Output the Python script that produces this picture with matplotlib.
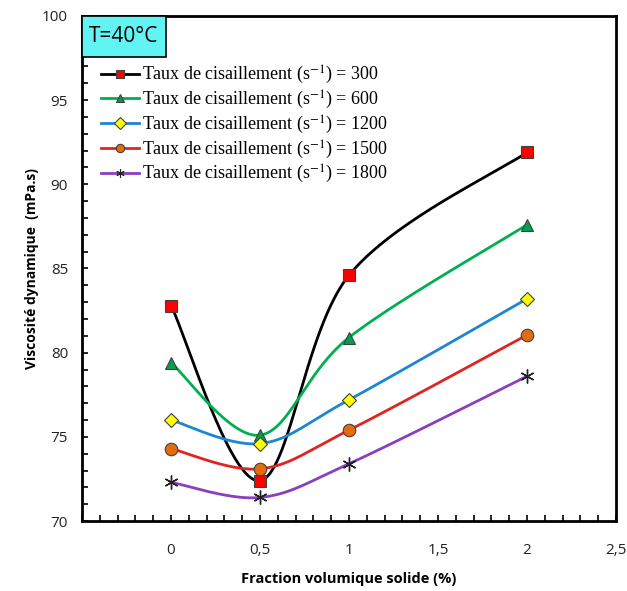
import numpy as np
import matplotlib
matplotlib.use("Agg")
import matplotlib.pyplot as plt
from matplotlib.ticker import MultipleLocator, FuncFormatter
from matplotlib.lines import Line2D
from matplotlib.patches import Rectangle

# ---- data ----
x_frac = [0, 0.5, 1, 2]
rates = [300, 600, 1200, 1500, 1800]
v300 = [82.8, 72.4, 84.6, 91.9]
v600 = [79.4, 75.1, 80.9, 87.6]
v1200 = [76.0, 74.6, 77.2, 83.2]
v1500 = [74.3, 73.1, 75.4, 81.05]
v1800 = [72.3, 71.4, 73.4, 78.6]
series = [v300, v600, v1200, v1500, v1800]

colors = ['black', '#00B050', '#1C86D1', '#E02424', '#8A3FBF']
mfc = ['#FF0000', '#00A050', '#FFFF00', '#E46C0A', 'black']
markers = ['s', '^', 'D', 'o', (6, 2, 0)]
msizes = [8, 8, 7, 9, 10]

plt.rcParams['mathtext.fontset'] = 'stix'

fig = plt.figure(figsize=(6.27, 5.91), dpi=100)
ax = fig.add_axes([0.1308, 0.1184, 0.8517, 0.8546])
ax.set_xlim(-0.5, 2.5)
ax.set_ylim(70, 100)

# Excel-like smoothing (Catmull-Rom Bezier) in display-proportional space
sx = 534 / 3.0
sy = 505 / 30.0

def smooth(xs, ys, n=60):
    P = np.column_stack([np.array(xs) * sx, np.array(ys) * sy])
    out = [P[0]]
    for i in range(len(P) - 1):
        p0 = P[i - 1] if i > 0 else P[i]
        p1 = P[i]
        p2 = P[i + 1]
        p3 = P[i + 2] if i + 2 < len(P) else P[i + 1]
        c1 = p1 + (p2 - p0) / 6.0
        c2 = p2 - (p3 - p1) / 6.0
        t = np.linspace(0, 1, n)[1:, None]
        b = ((1 - t) ** 3) * p1 + 3 * ((1 - t) ** 2) * t * c1 + 3 * (1 - t) * t ** 2 * c2 + t ** 3 * p2
        out.extend(b)
    out = np.array(out)
    return out[:, 0] / sx, out[:, 1] / sy

handles = []
for i, ys in enumerate(series):
    cx, cy = smooth(x_frac, ys)
    ax.plot(cx, cy, color=colors[i], lw=2.0, zorder=2)
    if i == 4:
        ax.plot(x_frac, ys, linestyle='none', marker=markers[i], ms=msizes[i],
                mec='#222222', mew=1.0, zorder=3)
    else:
        ax.plot(x_frac, ys, linestyle='none', marker=markers[i], ms=msizes[i],
                mfc=mfc[i], mec='#404040', mew=0.8, zorder=3)
    h = Line2D([0], [0], color=colors[i], lw=2.0, marker=markers[i], ms=6,
               mfc=mfc[i], mec='#404040' if i < 4 else '#222222', mew=0.8)
    handles.append(h)

labels = ['Taux de cisaillement (s$^{-1}$) = %d' % r for r in rates]
leg = ax.legend(handles, labels, loc='upper left', bbox_to_anchor=(0.012, 0.93),
                frameon=False, handlelength=2.1, handletextpad=0.15,
                labelspacing=0.14, borderaxespad=0.3,
                prop={'family': 'Liberation Serif', 'size': 13})

# T=40°C box anchored to the top-left corner of the plot area
bw, bh = 84 / 534, 41 / 505
ax.add_patch(Rectangle((0, 1 - bh), bw, bh, transform=ax.transAxes,
                       fc='#62F3F3', ec='black', lw=1.2, zorder=4, clip_on=False))
ax.text(bw / 2, 1 - bh / 2, 'T=40°C', transform=ax.transAxes, fontsize=15,
        family='Open Sans', va='center', ha='center', zorder=5)

ax.xaxis.set_major_locator(MultipleLocator(0.5))
ax.xaxis.set_minor_locator(MultipleLocator(0.1))
ax.yaxis.set_major_locator(MultipleLocator(5))
ax.yaxis.set_minor_locator(MultipleLocator(1))

def fmt(v, pos):
    if v < -0.01:
        return ''
    return ('%g' % round(v, 2)).replace('.', ',')

ax.xaxis.set_major_formatter(FuncFormatter(fmt))
ax.tick_params(which='both', direction='in', length=4, width=1.2, color='black',
               top=False, right=False)
ax.tick_params(axis='both', labelsize=11, labelcolor='#222222')
ax.tick_params(axis='x', pad=16)
ax.tick_params(axis='y', pad=10)
for lab in ax.get_xticklabels() + ax.get_yticklabels():
    lab.set_family('Open Sans')

for sp in ax.spines.values():
    sp.set_linewidth(2.0)
    sp.set_color('black')

ax.set_xlabel('Fraction volumique solide (%)', fontsize=10.5, fontweight='bold',
              family='Open Sans', labelpad=10)
ax.set_ylabel('Viscosité dynamique  (mPa.s)', fontsize=10, fontweight='bold',
              family='Open Sans', labelpad=2)

fig.savefig('out.png', dpi=100)
